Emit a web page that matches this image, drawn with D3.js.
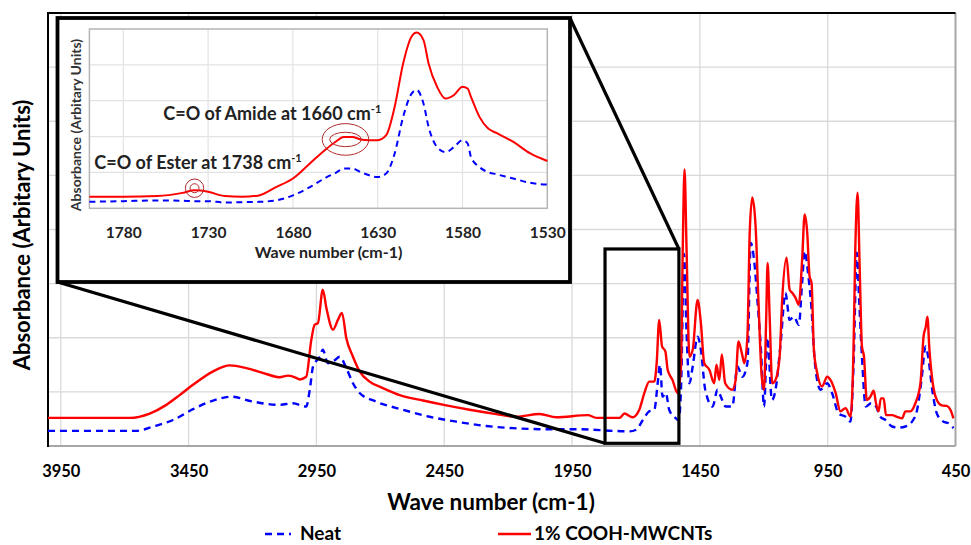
<!DOCTYPE html>
<html>
<head>
<meta charset="utf-8">
<script src="https://cdn.jsdelivr.net/npm/d3@7"></script>
<style>
  html, body { margin: 0; padding: 0; background: #fff; }
  svg { display: block; font-family: Lato, "Open Sans", sans-serif; }
</style>
</head>
<body>
<svg id="chart" width="971" height="545"></svg>
<script>
// ---------- DATA ----------
// Main spectrum: 1% COOH-MWCNTs (red)
const redWave = [4000,3680,3602,3537,3485,3433,3354,3289,3224,3146,3094,3061,3029,3016,2990,2970,2957,2944,2925,2911,2885,2866,2850,2833,2807,2781,2742,2690,2624,2533,2442,2351,2246,2168,2077,2012,1888,1855,1764,1745,1713,1687,1667,1648,1628,1619,1609,1598,1585,1576,1557,1537,1524,1517,1510,1502,1491,1478,1459,1446,1433,1413,1394,1385,1374,1364,1351,1323,1310,1299,1286,1276,1264,1255,1245,1232,1221,1208,1199,1191,1185,1177,1167,1154,1138,1128,1111,1099,1089,1076,1063,1050,1040,1030,1021,1013,1004,991,972,952,939,919,900,880,861,849,842,833,825,816,808,797,783,770,761,751,742,731,722,698,679,659,646,626,607,587,575,566,560,552,539,523,503,484,470,458];
const redAbs  = [0.52,0.52,0.60,0.76,0.94,1.13,1.38,1.49,1.44,1.33,1.27,1.30,1.26,1.23,1.28,1.96,2.24,2.27,2.89,2.55,2.15,2.33,2.46,1.99,1.65,1.38,1.19,1.07,0.94,0.84,0.75,0.67,0.59,0.54,0.59,0.53,0.57,0.52,0.52,0.60,0.53,0.67,0.98,1.19,1.19,1.53,2.33,1.84,1.75,1.41,1.22,0.98,1.47,3.63,5.11,3.63,1.65,1.78,2.70,2.27,1.53,1.41,1.16,1.50,1.22,1.69,1.16,1.04,1.22,1.93,1.72,1.53,2.02,3.94,4.59,4.06,2.70,1.28,1.04,2.27,3.38,2.39,1.16,1.22,1.65,2.70,3.48,2.89,2.83,2.74,2.61,3.44,4.28,3.94,3.14,3.01,1.78,1.35,1.10,1.28,1.22,0.98,0.64,0.70,0.54,1.78,3.63,4.68,3.32,1.84,1.65,0.85,0.91,1.02,0.79,0.64,0.88,0.88,0.57,0.57,0.54,0.51,0.64,0.64,0.79,1.16,2.02,2.21,2.39,1.78,1.16,0.85,0.75,0.74,0.67,0.51];
// Main spectrum: Neat (blue dashed)
const neatWave = [4000,3654,3589,3511,3433,3354,3282,3198,3094,3042,2990,2976,2963,2937,2925,2905,2880,2859,2833,2807,2781,2716,2612,2507,2403,2286,2181,2051,1920,1790,1725,1699,1673,1648,1628,1615,1606,1596,1583,1570,1550,1533,1523,1512,1502,1491,1478,1459,1446,1429,1400,1381,1368,1349,1323,1303,1284,1264,1251,1238,1225,1211,1199,1186,1168,1154,1134,1115,1099,1082,1063,1050,1040,1027,1013,1000,978,952,933,907,880,861,849,836,827,816,801,780,761,744,724,698,672,646,620,600,583,567,557,541,523,497,477,458];
const neatAbs  = [0.28,0.28,0.36,0.48,0.68,0.84,0.91,0.82,0.76,0.79,0.73,1.04,1.47,1.65,1.78,1.53,1.58,1.65,1.44,1.16,0.98,0.82,0.67,0.54,0.45,0.37,0.33,0.31,0.31,0.28,0.27,0.30,0.48,0.64,0.67,1.16,1.50,0.91,0.98,0.67,0.54,0.48,1.16,3.55,2.09,1.16,1.47,2.02,1.78,1.04,0.73,1.04,0.91,0.73,0.73,1.47,1.28,1.53,3.75,3.44,2.70,1.78,0.73,2.00,0.85,1.04,1.90,2.83,2.33,2.39,2.24,3.01,3.60,3.20,2.52,1.53,1.04,1.16,0.98,0.60,0.54,0.45,1.47,3.57,2.70,1.65,0.73,0.79,0.73,0.54,0.48,0.36,0.34,0.36,0.45,0.67,1.22,1.84,1.65,1.04,0.60,0.45,0.42,0.33];
const mainTicks = [3950,3450,2950,2450,1950,1450,950,450];
const mainGridY = [1,2,3,4,5,6,7];

// Inset (1800-1530 cm-1)
const insetWave = [1800,1780,1760,1745,1738,1730,1720,1710,1700,1690,1680,1670,1660,1655,1650,1645,1640,1635,1630,1625,1620,1615,1610,1607,1603,1600,1595,1590,1585,1580,1577,1575,1570,1565,1560,1550,1540,1530];
const insetRed  = [0.32,0.32,0.34,0.43,0.50,0.46,0.34,0.32,0.36,0.59,0.83,1.25,1.67,1.85,1.99,1.99,1.92,1.90,1.90,2.04,2.83,4.04,4.79,4.90,4.69,4.04,3.39,3.06,3.16,3.39,3.34,3.11,2.55,2.23,2.10,1.85,1.53,1.32];
const insetNeat = [0.18,0.20,0.22,0.21,0.20,0.20,0.16,0.17,0.18,0.22,0.36,0.59,0.87,0.98,1.11,1.11,1.01,0.92,0.87,0.97,1.53,2.55,3.20,3.30,2.92,2.27,1.71,1.57,1.71,1.90,1.81,1.43,1.15,1.01,0.95,0.83,0.71,0.66];
const insetTicks = [1780,1730,1680,1630,1580,1530];
const insetGridY = [1,2,3,4];

// Annotations (inset)
const annotText = ["C=O of Amide at 1660 cm", "C=O of Ester at 1738 cm"];
const annotSup  = ["-1", "-1"];
const markWave  = [1649, 1738];
const markAbs   = [1.92, 0.56];

// Zoom window on the main chart
const zoomWave = [1821, 1532];
const zoomAbs  = [0.05, 3.64];

const seriesNames = ["Neat", "1% COOH-MWCNTs"];
const xTitle = "Wave number (cm-1)";
const yTitle = "Absorbance (Arbitary Units)";

// ---------- DRAW ----------
const svg = d3.select("#chart");
svg.append("rect").attr("width", 971).attr("height", 545).attr("fill", "#fff");

const RED = "#ff0000", BLUE = "#0000ff";

// Main scales
const x = d3.scaleLinear().domain([4000, 450]).range([48, 955.5]);
const y = d3.scaleLinear().domain([0, 8]).range([446, 13]);

const main = svg.append("g");
// gridlines
main.selectAll(".gy").data(mainGridY).join("line")
  .attr("x1", x.range()[0]).attr("x2", x.range()[1])
  .attr("y1", d => y(d)).attr("y2", d => y(d))
  .attr("stroke", "#d9d9d9").attr("stroke-width", 1.3);
main.selectAll(".gx").data(mainTicks.slice(0, -1)).join("line")
  .attr("x1", d => x(d)).attr("x2", d => x(d))
  .attr("y1", y(0)).attr("y2", y(8))
  .attr("stroke", "#d9d9d9").attr("stroke-width", 1.3);

// x axis via d3.axisBottom
const xAxis = d3.axisBottom(x).tickValues(mainTicks).tickSize(0).tickPadding(0).tickFormat(d3.format("d"));
const gx = main.append("g").attr("transform", `translate(0,${y(0)})`).call(xAxis);
gx.select(".domain").remove();
gx.selectAll("text").attr("y", 31).attr("dy", null)
  .attr("font-family", "Lato, sans-serif").attr("font-weight", 700).attr("font-size", 16.5).attr("fill", "#000");

// frame
main.append("line").attr("x1", x.range()[0]).attr("x2", x.range()[1]).attr("y1", y(0)).attr("y2", y(0)).attr("stroke", "#a6a6a6").attr("stroke-width", 2);
main.append("line").attr("x1", x.range()[1]).attr("x2", x.range()[1]).attr("y1", y(0)).attr("y2", y(8)).attr("stroke", "#a6a6a6").attr("stroke-width", 2);
main.append("line").attr("x1", x.range()[0]).attr("x2", x.range()[1]).attr("y1", y(8)).attr("y2", y(8)).attr("stroke", "#000").attr("stroke-width", 2);
main.append("line").attr("x1", x.range()[0]).attr("x2", x.range()[0]).attr("y1", y(0) + 1).attr("y2", y(8) - 1).attr("stroke", "#000").attr("stroke-width", 2);

// curves
const lineMain = (wv, ab) => d3.line().curve(d3.curveMonotoneX)
  .x((d, i) => x(wv[i])).y((d, i) => y(ab[i]))(wv);
main.append("path").attr("d", lineMain(neatWave, neatAbs)).attr("fill", "none")
  .attr("stroke", BLUE).attr("stroke-width", 2.4).attr("stroke-dasharray", "7,5");
main.append("path").attr("d", lineMain(redWave, redAbs)).attr("fill", "none")
  .attr("stroke", RED).attr("stroke-width", 2.4).attr("stroke-linejoin", "round");

// titles
svg.append("text").attr("x", 491).attr("y", 510).attr("text-anchor", "middle")
  .attr("font-weight", 700).attr("font-size", 22.5).attr("fill", "#000").text(xTitle);
svg.append("text").attr("transform", "translate(30,235) rotate(-90)").attr("text-anchor", "middle")
  .attr("font-weight", 700).attr("font-size", 22).attr("fill", "#000").text(yTitle);

// legend
const leg = svg.append("g");
leg.append("line").attr("x1", 265).attr("x2", 291).attr("y1", 534).attr("y2", 534)
  .attr("stroke", BLUE).attr("stroke-width", 2.4).attr("stroke-dasharray", "7,5");
leg.append("text").attr("x", 300).attr("y", 540).attr("font-weight", 700).attr("font-size", 19).text(seriesNames[0]);
leg.append("line").attr("x1", 498).attr("x2", 531).attr("y1", 534).attr("y2", 534)
  .attr("stroke", RED).attr("stroke-width", 2.4);
leg.append("text").attr("x", 534).attr("y", 540).attr("font-weight", 700).attr("font-size", 19).text(seriesNames[1]);

// zoom rectangle & connectors
const zx0 = x(zoomWave[0]), zx1 = x(zoomWave[1]), zy0 = y(zoomAbs[0]), zy1 = y(zoomAbs[1]);
const box = { l: 57.5, t: 18, r: 570, b: 282 };
svg.append("rect").attr("x", zx0).attr("y", zy1).attr("width", zx1 - zx0).attr("height", zy0 - zy1)
  .attr("fill", "none").attr("stroke", "#000").attr("stroke-width", 3.2);
svg.append("line").attr("x1", box.l).attr("y1", box.b).attr("x2", zx0).attr("y2", zy0)
  .attr("stroke", "#000").attr("stroke-width", 3.2);
svg.append("line").attr("x1", box.r).attr("y1", box.t).attr("x2", zx1).attr("y2", zy1)
  .attr("stroke", "#000").attr("stroke-width", 3.2);

// ---------- INSET ----------
const inset = svg.append("g");
inset.append("rect").attr("x", box.l).attr("y", box.t).attr("width", box.r - box.l).attr("height", box.b - box.t)
  .attr("fill", "#fff").attr("stroke", "#000").attr("stroke-width", 3.8);

const ix = d3.scaleLinear().domain([1800, 1530]).range([89.4, 547.3]);
const iy = d3.scaleLinear().domain([0, 5]).range([208.3, 29]);

inset.selectAll(".igy").data(insetGridY).join("line")
  .attr("x1", ix.range()[0]).attr("x2", ix.range()[1])
  .attr("y1", d => iy(d)).attr("y2", d => iy(d))
  .attr("stroke", "#e3e3e3").attr("stroke-width", 1.2);
inset.selectAll(".igx").data(insetTicks.slice(0, -1)).join("line")
  .attr("x1", d => ix(d)).attr("x2", d => ix(d))
  .attr("y1", iy(0)).attr("y2", iy(5))
  .attr("stroke", "#e3e3e3").attr("stroke-width", 1.2);
inset.append("rect").attr("x", ix.range()[0]).attr("y", iy(5))
  .attr("width", ix.range()[1] - ix.range()[0]).attr("height", iy(0) - iy(5))
  .attr("fill", "none").attr("stroke", "#b5b5b5").attr("stroke-width", 1.5);

const ixAxis = d3.axisBottom(ix).tickValues(insetTicks).tickSize(0).tickPadding(0).tickFormat(d3.format("d"));
const gix = inset.append("g").attr("transform", `translate(0,${iy(0)})`).call(ixAxis);
gix.select(".domain").remove();
gix.selectAll("text").attr("y", 29.5).attr("dy", null)
  .attr("font-family", "Lato, sans-serif").attr("font-weight", 700).attr("font-size", 15.5).attr("fill", "#222");

inset.append("text").attr("x", 328.5).attr("y", 258).attr("text-anchor", "middle")
  .attr("font-weight", 700).attr("font-size", 16).attr("fill", "#222").text(xTitle);
inset.append("text").attr("transform", "translate(81,125) rotate(-90)").attr("text-anchor", "middle")
  .attr("font-weight", 700).attr("font-size", 14).attr("fill", "#333").text(yTitle);

const lineIn = (ab) => d3.line().curve(d3.curveMonotoneX)
  .x((d, i) => ix(insetWave[i])).y((d, i) => iy(ab[i]))(insetWave);
inset.append("path").attr("d", lineIn(insetNeat)).attr("fill", "none")
  .attr("stroke", BLUE).attr("stroke-width", 2).attr("stroke-dasharray", "6,4.5");
inset.append("path").attr("d", lineIn(insetRed)).attr("fill", "none")
  .attr("stroke", RED).attr("stroke-width", 2);

// annotation markers
const ringCol = "#b22a2a";
inset.append("ellipse").attr("cx", ix(markWave[0])).attr("cy", iy(markAbs[0])).attr("rx", 23.3).attr("ry", 15.8)
  .attr("fill", "none").attr("stroke", ringCol).attr("stroke-width", 1);
inset.append("ellipse").attr("cx", ix(markWave[0])).attr("cy", iy(markAbs[0])).attr("rx", 15.8).attr("ry", 7.2)
  .attr("fill", "none").attr("stroke", ringCol).attr("stroke-width", 1);
inset.append("circle").attr("cx", ix(markWave[1])).attr("cy", iy(markAbs[1])).attr("r", 9.2)
  .attr("fill", "none").attr("stroke", ringCol).attr("stroke-width", 1);
inset.append("circle").attr("cx", ix(markWave[1])).attr("cy", iy(markAbs[1])).attr("r", 4.5)
  .attr("fill", "none").attr("stroke", ringCol).attr("stroke-width", 1);

// annotation texts
const annPos = [[163.3, 120], [94.3, 169]];
annotText.forEach((t, i) => {
  const tx = inset.append("text").attr("x", annPos[i][0]).attr("y", annPos[i][1])
    .attr("font-weight", 700).attr("font-size", 18).attr("fill", "#222");
  tx.append("tspan").text(t);
  tx.append("tspan").attr("dy", -7.5).attr("font-size", 11).text(annotSup[i]);
});
</script>
</body>
</html>
